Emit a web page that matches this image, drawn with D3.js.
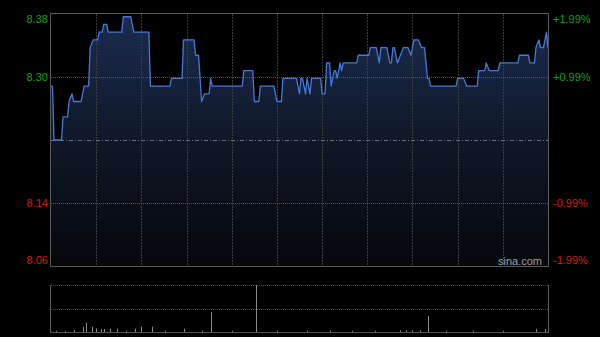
<!DOCTYPE html>
<html>
<head>
<meta charset="utf-8">
<script src="https://cdn.jsdelivr.net/npm/d3@7"></script>
<style>
  body { margin: 0; background: #000; }
  svg { display: block; }
  text { font-family: "Liberation Sans", Arial, sans-serif; font-size: 11px; }
</style>
</head>
<body>
<svg id="canvas" width="600" height="337"></svg>
<script>
// intraday minutes (0 = open, 330 = close) and last price at each turning point
var minutes = [0, 1, 2, 7, 8, 11, 12, 14, 15, 20, 22, 25, 26, 28, 31, 32, 34, 35, 37, 38,
  47, 48, 53, 55, 65, 66, 79, 80, 87, 88, 95, 96, 98, 100, 102, 105, 106, 107, 127, 128,
  134, 135, 138, 139, 148, 150, 153, 154, 163, 165, 166, 167, 169, 170, 172, 173, 179, 180, 182, 183,
  185, 186, 188, 189, 190, 192, 193, 194, 203, 204, 211, 212, 216, 218, 219, 223, 225, 226, 227, 228,
  230, 232, 234, 237, 239, 241, 244, 246, 248, 250, 251, 252, 269, 270, 274, 276, 283, 284, 288, 289,
  291, 297, 298, 310, 311, 317, 318, 321, 322, 324, 325, 327, 329, 330];
var prices = [8.29, 8.29, 8.22, 8.22, 8.25, 8.25, 8.27, 8.28, 8.27, 8.27, 8.29, 8.29, 8.34, 8.35, 8.35, 8.36, 8.36, 8.37, 8.37, 8.36,
  8.36, 8.38, 8.38, 8.36, 8.36, 8.29, 8.29, 8.30, 8.30, 8.35, 8.35, 8.33, 8.33, 8.27, 8.28, 8.28, 8.30, 8.29, 8.29, 8.31,
  8.31, 8.27, 8.27, 8.29, 8.29, 8.27, 8.27, 8.30, 8.30, 8.28, 8.30, 8.30, 8.28, 8.30, 8.28, 8.30, 8.30, 8.28, 8.28, 8.32,
  8.32, 8.29, 8.31, 8.31, 8.30, 8.32, 8.31, 8.32, 8.32, 8.33, 8.33, 8.34, 8.34, 8.32, 8.34, 8.34, 8.32, 8.32, 8.34, 8.34,
  8.32, 8.33, 8.34, 8.34, 8.33, 8.35, 8.35, 8.34, 8.34, 8.30, 8.30, 8.29, 8.29, 8.30, 8.30, 8.29, 8.29, 8.31, 8.31, 8.32,
  8.31, 8.31, 8.32, 8.32, 8.33, 8.33, 8.32, 8.32, 8.34, 8.35, 8.34, 8.34, 8.36, 8.34];

// volume bars (thousand shares)
var volMinutes = [3, 9, 15, 21, 23, 27, 30, 33, 35, 39, 44, 50, 56, 60, 67, 76, 88, 100, 106, 120,
  136, 150, 170, 185, 200, 215, 232, 236, 240, 245, 250, 262, 280, 300, 322, 328];
var volumes = [12, 10, 20, 53, 93, 53, 37, 30, 30, 33, 33, 12, 33, 53, 53, 12, 33, 12, 200, 12,
  470, 12, 12, 14, 12, 12, 15, 18, 15, 15, 160, 12, 12, 12, 30, 30];

// axis ticks: percent change from previous close, and the printed price labels
var basePrice = 8.22;
var pctTicks = [1.99, 0.99, -0.99, -1.99];
var pctLabels = ["+1.99%", "+0.99%", "-0.99%", "-1.99%"];
var priceLabels = ["8.38", "8.30", "8.14", "8.06"];

drawChart();

function drawChart() {
  var svg = d3.select("#canvas");
  var left = 51, right = 548, top = 14, bottom = 266;
  var vTop = 285, vBottom = 332;

  var lo = basePrice * (1 + pctTicks[3] / 100), hi = basePrice * (1 + pctTicks[0] / 100);
  var x = d3.scaleLinear().domain([0, 330]).range([left, right]);
  var y = d3.scaleLinear().domain([lo, hi]).range([bottom, top]);
  var vy = d3.scaleLinear().domain([0, 470]).range([vBottom, vTop]);
  var tickY = function(p) { return y(basePrice * (1 + p / 100)); };

  var grad = svg.append("defs").append("linearGradient")
      .attr("id", "fill")
      .attr("gradientUnits", "userSpaceOnUse")
      .attr("x1", 0).attr("y1", top).attr("x2", 0).attr("y2", bottom);
  grad.append("stop").attr("offset", "0").attr("stop-color", "#1b2c50");
  grad.append("stop").attr("offset", "0.5").attr("stop-color", "#0f1828");
  grad.append("stop").attr("offset", "1").attr("stop-color", "#05070b");

  var pts = minutes.map(function(m, i) { return [m, prices[i]]; });

  // area under the price line
  svg.append("path")
      .datum(pts)
      .attr("fill", "url(#fill)")
      .attr("d", d3.area()
        .x(function(d) { return x(d[0]); })
        .y0(bottom)
        .y1(function(d) { return y(d[1]); }));

  // vertical grid, every 30 minutes
  var g = svg.append("g");
  g.selectAll(".vgrid")
    .data(d3.range(30, 330, 30))
    .enter().append("line")
      .attr("x1", function(d) { return Math.round(x(d)) + 0.5; })
      .attr("x2", function(d) { return Math.round(x(d)) + 0.5; })
      .attr("y1", top).attr("y2", bottom)
      .attr("stroke", "#3c3c3c")
      .attr("stroke-dasharray", "2,1");

  // horizontal grid
  g.selectAll(".hgrid")
    .data([pctTicks[1], pctTicks[2]])
    .enter().append("line")
      .attr("x1", left).attr("x2", right)
      .attr("y1", function(d) { return Math.round(tickY(d)) + 0.5; })
      .attr("y2", function(d) { return Math.round(tickY(d)) + 0.5; })
      .attr("stroke", "#555")
      .attr("stroke-dasharray", "1,1");

  // previous close line
  g.append("line")
      .attr("x1", left).attr("x2", right)
      .attr("y1", Math.round(y(basePrice)) + 0.5)
      .attr("y2", Math.round(y(basePrice)) + 0.5)
      .attr("stroke", "#6a7080")
      .attr("stroke-dasharray", "4,2,1,2");

  // price line
  svg.append("path")
      .datum(pts)
      .attr("fill", "none")
      .attr("stroke", "#4479d8")
      .attr("stroke-width", 1.3)
      .attr("stroke-linejoin", "round")
      .attr("d", d3.line()
        .x(function(d) { return x(d[0]); })
        .y(function(d) { return y(d[1]); }));

  // frame
  svg.append("rect")
      .attr("x", left - 0.5).attr("y", top - 0.5)
      .attr("width", right - left + 1).attr("height", bottom - top + 1)
      .attr("fill", "none")
      .attr("stroke", "#5a5a5a");

  // axis labels
  var labelY = function(p, i) {
    if (i == 0) return top + 9;
    if (i == 3) return bottom - 2;
    return tickY(p) + 4;
  };
  svg.selectAll(".plabel")
    .data(pctTicks)
    .enter().append("text")
      .attr("x", 48)
      .attr("y", labelY)
      .attr("text-anchor", "end")
      .attr("fill", function(d) { return d > 0 ? "#13a013" : "#d41c0c"; })
      .text(function(d, i) { return priceLabels[i]; });

  svg.selectAll(".rlabel")
    .data(pctTicks)
    .enter().append("text")
      .attr("x", 553)
      .attr("y", labelY)
      .attr("fill", function(d) { return d > 0 ? "#13a013" : "#d41c0c"; })
      .text(function(d, i) { return pctLabels[i]; });

  svg.append("text")
      .attr("x", 498).attr("y", 265)
      .attr("fill", "#a0a0a0")
      .text("sina.com");

  // volume panel
  var v = svg.append("g");
  v.selectAll(".vline")
    .data([vTop, (vTop + vBottom) / 2])
    .enter().append("line")
      .attr("x1", left).attr("x2", right)
      .attr("y1", function(d) { return Math.round(d) + 0.5; })
      .attr("y2", function(d) { return Math.round(d) + 0.5; })
      .attr("stroke", "#4a4a4a")
      .attr("stroke-dasharray", "1,1");

  v.selectAll(".vbar")
    .data(volMinutes)
    .enter().append("line")
      .attr("x1", function(d) { return Math.round(x(d)) + 0.5; })
      .attr("x2", function(d) { return Math.round(x(d)) + 0.5; })
      .attr("y1", vBottom)
      .attr("y2", function(d, i) { return vy(volumes[i]); })
      .attr("stroke", "#8a8a8a");

  v.append("line")
      .attr("x1", left).attr("x2", right)
      .attr("y1", vBottom + 0.5).attr("y2", vBottom + 0.5)
      .attr("stroke", "#555");
  v.selectAll(".vside")
    .data([left - 0.5, right + 0.5])
    .enter().append("line")
      .attr("x1", function(d) { return d; })
      .attr("x2", function(d) { return d; })
      .attr("y1", vTop).attr("y2", vBottom + 1)
      .attr("stroke", "#5a5a5a");
}
</script>
</body>
</html>
